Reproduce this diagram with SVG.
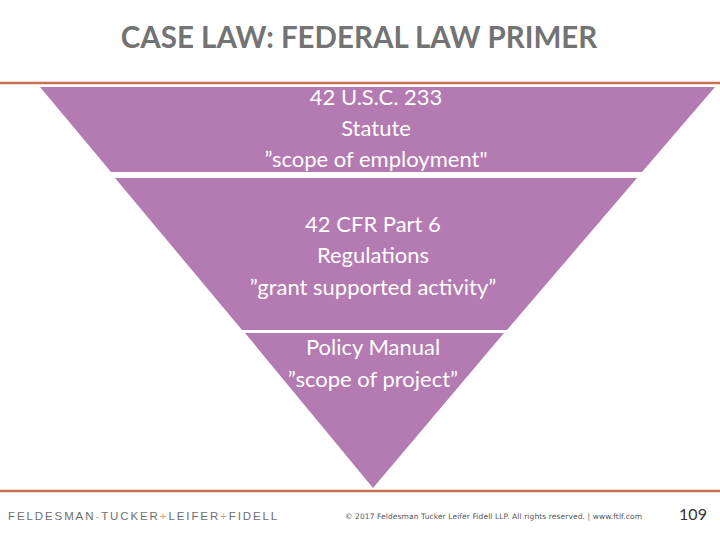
<svg xmlns="http://www.w3.org/2000/svg" width="720" height="540" viewBox="0 0 720 540">
  <style>
    .band { fill: #B47AB2; }
    .lbl { font-family: Lato, "Open Sans", sans-serif; font-size: 22px; fill: #ffffff; text-anchor: middle; }
    .rule { stroke: #C8704F; stroke-width: 2.5; }
  </style>
  <rect width="720" height="540" fill="#ffffff"/>
  <text x="359" y="48" font-family="Lato, 'Open Sans', sans-serif" font-size="29.5" font-weight="bold" fill="#737373" text-anchor="middle">CASE LAW: FEDERAL LAW PRIMER</text>
  <line class="rule" x1="0" y1="83" x2="720" y2="83"/>
  <g id="statute">
    <polygon class="band" points="40,87 715,87 642,172 111,172"/>
    <text class="lbl" x="376" y="105">42 U.S.C. 233</text>
    <text class="lbl" x="376" y="136">Statute</text>
    <text class="lbl" x="376" y="167">”scope of employment"</text>
  </g>
  <g id="regulations">
    <polygon class="band" points="115,178 637,178 507,330 242,330"/>
    <text class="lbl" x="373" y="232">42 CFR Part 6</text>
    <text class="lbl" x="373" y="263">Regulations</text>
    <text class="lbl" x="373" y="295">”grant supported activity”</text>
  </g>
  <g id="policy">
    <polygon class="band" points="245,333 504,333 373,488"/>
    <text class="lbl" x="373" y="355">Policy Manual</text>
    <text class="lbl" x="373" y="387">”scope of project”</text>
  </g>
  <line class="rule" x1="0" y1="491" x2="720" y2="491"/>
  <text x="8" y="520" font-family="'Liberation Sans', sans-serif" font-size="11.5" letter-spacing="1.9" fill="#6f6f6f">FELDESMAN<tspan fill="#D9A070">-</tspan>TUCKER<tspan fill="#D9A070">+</tspan>LEIFER<tspan fill="#D9A070">+</tspan>FIDELL</text>
  <text x="345" y="519" font-family="'DejaVu Sans', sans-serif" font-size="7.5" fill="#555555" textLength="297">© 2017 Feldesman Tucker Leifer Fidell LLP. All rights reserved.  |  www.ftlf.com</text>
  <text x="693" y="520" font-family="Lato, sans-serif" font-size="16" fill="#333333" text-anchor="middle">109</text>
</svg>
